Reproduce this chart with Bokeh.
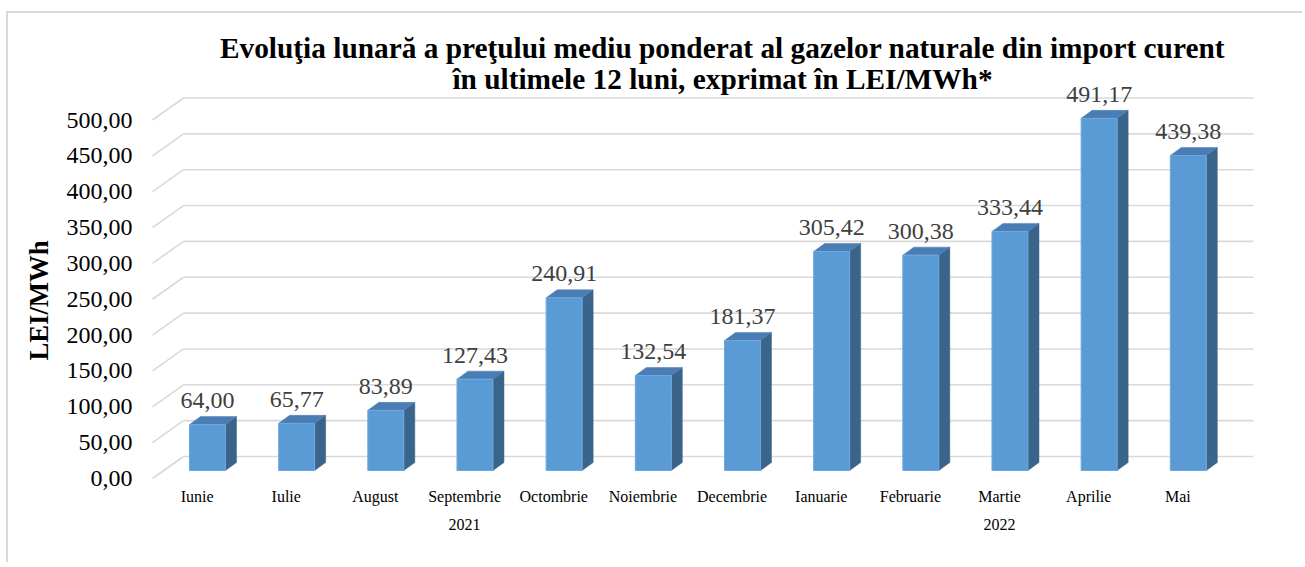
from bokeh.plotting import figure
from bokeh.models import Range1d, FixedTicker, LinearAxis, Title
from bokeh.embed import file_html
from bokeh.resources import INLINE

# ---------------- data ----------------
months = ["Iunie", "Iulie", "August", "Septembrie", "Octombrie", "Noiembrie",
          "Decembrie", "Ianuarie", "Februarie", "Martie", "Aprilie", "Mai"]
month_years = ["2021"] * 7 + ["2022"] * 5
prices = [64.00, 65.77, 83.89, 127.43, 240.91, 132.54, 181.37,
          305.42, 300.38, 333.44, 491.17, 439.38]
y_ticks = [0, 50, 100, 150, 200, 250, 300, 350, 400, 450, 500]
title_line1 = "Evoluţia lunară a preţului mediu ponderat al gazelor naturale din import curent"
title_line2 = "în ultimele 12 luni, exprimat în LEI/MWh*"
y_title = "LEI/MWh"

FONT = "Liberation Serif"

# ---------------- geometry (pixels) ----------------
OX, OY = 8, 13                     # figure content origin on the page
W, H = 1296, 551
FL = 140 - OX                      # frame left
FT = 84 - OY                       # frame top
FB = 486 - OY                      # frame bottom
PXX = 1070 / 12                    # px per category
K = 0.717                          # px per value unit
front_left_px = 152 - OX           # front-plane x of category -0.5
front_zero_px = 478 - OY           # front-plane y of value 0

x0 = -0.5 - (front_left_px - FL) / PXX
x1 = x0 + (W - FL) / PXX
y0 = -(FB - front_zero_px) / K
y1 = y0 + (FB - FT) / K

dxb, dyb = 31 / PXX, 22 / K        # back wall offset
dxf, dyf = 10.4 / PXX, 8 / K       # bar front face offset
ddx, ddy = 11 / PXX, 8 / K         # bar depth
bw = 36 / PXX                      # bar width

n = len(months)

p = figure(width=W, height=H, x_range=Range1d(x0, x1), y_range=Range1d(y0, y1),
           output_backend="svg", toolbar_location=None,
           min_border_left=FL, min_border_right=0, min_border_top=FT,
           min_border_bottom=H - FB)
p.outline_line_color = None
p.xgrid.visible = False
p.ygrid.visible = False
p.background_fill_color = "white"
p.border_fill_color = "white"
p.styles = {"margin-left": "6px", "margin-top": "11px",
            "border-left": "2px solid #d9d9d9", "border-top": "2px solid #d9d9d9"}

# ---------------- gridlines (back wall + left wall) ----------------
left, right = -0.5, n - 0.5
p.segment(x0=[left + dxb] * len(y_ticks), y0=[t + dyb for t in y_ticks],
          x1=[right + dxb] * len(y_ticks), y1=[t + dyb for t in y_ticks],
          line_color="#d9d9d9", line_width=1.6)
p.segment(x0=[left] * len(y_ticks), y0=y_ticks,
          x1=[left + dxb] * len(y_ticks), y1=[t + dyb for t in y_ticks],
          line_color="#d9d9d9", line_width=1.6)

# ---------------- bars ----------------
xs = [i + dxf for i in range(n)]
tops = [v + dyf for v in prices]
side_x, side_y, top_x, top_y = [], [], [], []
for xc, v in zip(xs, prices):
    xl, xr = xc - bw / 2, xc + bw / 2
    side_x.append([xr, xr + ddx, xr + ddx, xr])
    side_y.append([dyf, dyf + ddy, v + dyf + ddy, v + dyf])
    top_x.append([xl, xr, xr + ddx, xl + ddx])
    top_y.append([v + dyf, v + dyf, v + dyf + ddy, v + dyf + ddy])

p.patches(side_x, side_y, fill_color="#3a6489", line_color="#3a6489", line_width=0.5)
p.patches(top_x, top_y, fill_color="#4a7db3", line_color="#4a7db3", line_width=0.5)
p.vbar(x=xs, width=bw, bottom=dyf, top=tops, fill_color="#5b9bd5",
       line_color="#6ea8dc", line_width=1)

labels = [f"{v:.2f}".replace(".", ",") for v in prices]
p.text(x=xs, y=tops, text=labels, y_offset=-24, text_align="center",
       text_baseline="middle", text_font={"value": FONT}, text_font_size="24px",
       text_color="#404040")

# ---------------- axes ----------------
ya = p.yaxis[0]
ya.ticker = FixedTicker(ticks=y_ticks)
ya.major_label_overrides = {t: f"{t:.2f}".replace(".", ",") for t in y_ticks}
ya.major_label_text_font = FONT
ya.major_label_text_font_size = "24px"
ya.major_label_text_color = "black"
ya.axis_line_color = None
ya.major_tick_line_color = None
ya.minor_tick_line_color = None
ya.major_tick_out = 0
ya.major_label_standoff = 8

xa = p.xaxis[0]
xa.ticker = FixedTicker(ticks=list(range(n)))
xa.major_label_overrides = {i: m for i, m in enumerate(months)}
xa.major_label_text_font = FONT
xa.major_label_text_font_size = "16px"
xa.major_label_text_color = "black"
xa.axis_line_color = None
xa.major_tick_line_color = None
xa.minor_tick_line_color = None
xa.major_tick_out = 0
xa.major_label_standoff = 1

years = []
year_pos = []
for y in month_years:
    if y not in years:
        years.append(y)
for y in years:
    idx = [i for i, yy in enumerate(month_years) if yy == y]
    c = (idx[0] + idx[-1]) / 2
    year_pos.append(int(c) if c == int(c) else c)

ya2 = LinearAxis(ticker=FixedTicker(ticks=year_pos),
                 major_label_overrides={pos: y for pos, y in zip(year_pos, years)})
ya2.major_label_text_font = FONT
ya2.major_label_text_font_size = "16px"
ya2.major_label_text_color = "black"
ya2.axis_line_color = None
ya2.major_tick_line_color = None
ya2.minor_tick_line_color = None
ya2.major_tick_out = 0
ya2.major_label_standoff = 11
p.add_layout(ya2, "below")

# y axis title
p.add_layout(Title(text=y_title, align="left", offset=126, text_font=FONT,
                   text_font_size="26.67px", text_font_style="bold",
                   text_color="black", standoff=20), "left")

# ---------------- titles ----------------
p.title.text = title_line1
p.title.align = "center"
p.title.text_font = FONT
p.title.text_font_size = "29.33px"
p.title.text_font_style = "bold"
p.title.text_color = "black"
p.title.standoff = 14
p.add_layout(Title(text=title_line2, align="center", text_font=FONT,
                   text_font_size="29.33px", text_font_style="bold",
                   text_color="black", standoff=-20), "above")

open("out.html", "w").write(file_html(p, INLINE))
